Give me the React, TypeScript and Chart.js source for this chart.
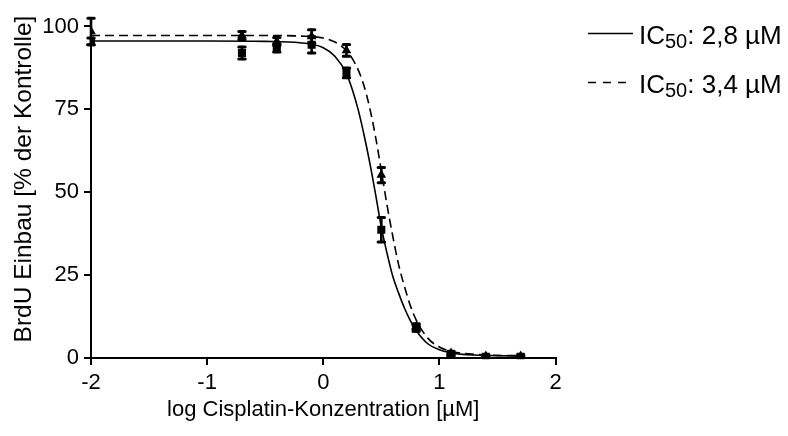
import { useEffect, useRef } from "react";
import { Chart, registerables } from "chart.js";

Chart.register(...registerables);

const FONT = 'Arial, "Liberation Sans", Helvetica, sans-serif';

// Measured points (log concentration, µM)
const doseLog = [-2, -0.7, -0.4, -0.1, 0.2, 0.5, 0.8, 1.1, 1.4, 1.7];

// Series with IC50 2,8 µM (squares, solid fit)
const squareMeans = [95.5, 92.0, 93.5, 94.5, 86.0, 38.7, 8.9, 0.9, 0.4, 0.4];
const squareErrors = [1.0, 1.8, 1.2, 2.5, 1.5, 3.7, 0.8, 0.5, 0.3, 0.3];

// Series with IC50 3,4 µM (triangles, dashed fit)
const triangleMeans = [98.5, 97.3, 95.5, 97.0, 92.8, 55.2, 9.5, 1.5, 0.6, 0.6];
const triangleErrors = [4.0, 1.2, 1.2, 2.0, 1.8, 2.3, 0.8, 0.5, 0.3, 0.3];

// Fitted curves
const curveX = [-2, -1.5, -1, -0.5, -0.2, 0, 0.1, 0.2, 0.25, 0.3, 0.35, 0.4, 0.45, 0.5, 0.55, 0.6, 0.65, 0.7, 0.75, 0.8, 0.9, 1.0, 1.1, 1.2, 1.3, 1.5, 1.7];
const solidCurve = [95.6, 95.6, 95.6, 95.5, 95.1, 93.6, 91.0, 85.8, 81.0, 75.0, 67.5, 59.0, 49.5, 39.5, 31.5, 24.5, 19.5, 15.0, 11.3, 8.3, 4.3, 2.5, 1.6, 1.1, 0.9, 0.7, 0.6];
const dashedCurve = [97.3, 97.3, 97.3, 97.3, 97.1, 96.5, 95.3, 92.7, 90.3, 87.0, 82.2, 75.5, 66.8, 56.5, 46.0, 36.5, 28.0, 21.5, 15.8, 11.5, 6.0, 3.3, 2.0, 1.4, 1.1, 0.8, 0.7];

const xTicks = [-2, -1, 0, 1, 2];
const yTicks = [0, 25, 50, 75, 100];

const legendEntries = [
  { main: "IC", sub: "50", rest: ": 2,8 µM", dashed: false },
  { main: "IC", sub: "50", rest: ": 3,4 µM", dashed: true },
];

const xTitle = "log Cisplatin-Konzentration [µM]";
const yTitle = "BrdU Einbau [% der Kontrolle]";

const errorBarPlugin = {
  id: "errorBars",
  afterDatasetsDraw(chart: any) {
    const { ctx, scales } = chart;
    const xs = scales.x;
    const ys = scales.y;
    const sets = [
      { means: squareMeans, errs: squareErrors },
      { means: triangleMeans, errs: triangleErrors },
    ];
    ctx.save();
    ctx.strokeStyle = "#000";
    ctx.lineCap = "round";
    sets.forEach(({ means, errs }) => {
      means.forEach((m, i) => {
        const px = xs.getPixelForValue(doseLog[i]);
        const top = ys.getPixelForValue(m + errs[i]);
        const bot = ys.getPixelForValue(m - errs[i]);
        ctx.lineWidth = 2.6;
        ctx.beginPath();
        ctx.moveTo(px, top);
        ctx.lineTo(px, bot);
        ctx.stroke();
        ctx.lineWidth = 3;
        ctx.beginPath();
        ctx.moveTo(px - 3.2, top);
        ctx.lineTo(px + 3.2, top);
        ctx.moveTo(px - 3.2, bot);
        ctx.lineTo(px + 3.2, bot);
        ctx.stroke();
      });
    });
    ctx.restore();
  },
};

const textPlugin = {
  id: "texts",
  afterDraw(chart: any) {
    const { ctx } = chart;
    ctx.save();
    ctx.fillStyle = "#000";
    ctx.strokeStyle = "#000";
    // y axis title
    ctx.save();
    ctx.translate(24, 179);
    ctx.rotate(-Math.PI / 2);
    ctx.font = `24.5px ${FONT}`;
    ctx.textAlign = "center";
    ctx.textBaseline = "middle";
    ctx.fillText(yTitle, 0, 0);
    ctx.restore();
    // legend
    ctx.textBaseline = "alphabetic";
    ctx.textAlign = "left";
    legendEntries.forEach((e, i) => {
      const base = 43.5 + i * 49;
      const ly = base - 10;
      ctx.lineWidth = 1.6;
      ctx.setLineDash(e.dashed ? [8, 7] : []);
      ctx.beginPath();
      ctx.moveTo(588, ly);
      ctx.lineTo(633, ly);
      ctx.stroke();
      ctx.setLineDash([]);
      let x = 639;
      ctx.font = `26px ${FONT}`;
      ctx.fillText(e.main, x, base);
      x += ctx.measureText(e.main).width;
      ctx.font = `20px ${FONT}`;
      ctx.fillText(e.sub, x, base + 4);
      x += ctx.measureText(e.sub).width;
      ctx.font = `26px ${FONT}`;
      ctx.fillText(e.rest, x, base);
    });
    ctx.restore();
  },
};

export default function App() {
  const canvasRef = useRef<HTMLCanvasElement | null>(null);

  useEffect(() => {
    if (!canvasRef.current) return;
    const toPts = (xsArr: number[], ysArr: number[]) => xsArr.map((x, i) => ({ x, y: ysArr[i] }));
    const chart = new Chart(canvasRef.current, {
      type: "scatter",
      data: {
        datasets: [
          {
            type: "scatter",
            label: "squares",
            data: toPts(doseLog, squareMeans),
            pointStyle: "rect",
            pointRadius: 5.7,
            backgroundColor: "#000",
            borderColor: "#000",
            borderWidth: 0,
          },
          {
            type: "scatter",
            label: "triangles",
            data: toPts(doseLog, triangleMeans),
            pointStyle: "triangle",
            pointRadius: 5.6,
            backgroundColor: "#000",
            borderColor: "#000",
            borderWidth: 0,
          },
          {
            type: "line",
            label: "fit 2,8",
            data: toPts(curveX, solidCurve),
            borderColor: "#000",
            borderWidth: 1.6,
            pointRadius: 0,
            fill: false,
            cubicInterpolationMode: "monotone",
          },
          {
            type: "line",
            label: "fit 3,4",
            data: toPts(curveX, dashedCurve),
            borderColor: "#000",
            borderWidth: 1.6,
            borderDash: [9, 5],
            pointRadius: 0,
            fill: false,
            cubicInterpolationMode: "monotone",
          },
        ],
      },
      options: {
        responsive: false,
        animation: false,
        events: [],
        layout: { padding: { left: 0, top: 16.7, right: 232.5, bottom: 0 } },
        plugins: { legend: { display: false }, tooltip: { enabled: false } },
        scales: {
          x: {
            type: "linear",
            min: -2,
            max: 2,
            afterBuildTicks: (s: any) => {
              s.ticks = xTicks.map((v) => ({ value: v }));
            },
            afterFit: (s: any) => {
              s.height = 78;
            },
            grid: { drawOnChartArea: false, drawTicks: true, tickLength: 7, color: "#000", lineWidth: 2 },
            border: { display: true, color: "#000", width: 2 },
            ticks: { color: "#000", font: { family: FONT, size: 22 }, padding: 5, maxRotation: 0, autoSkip: false },
            title: {
              display: true,
              text: xTitle,
              color: "#000",
              font: { family: FONT, size: 22 },
              padding: { top: 0, bottom: 13 },
            },
          },
          y: {
            type: "linear",
            min: 0,
            max: 102.5,
            afterBuildTicks: (s: any) => {
              s.ticks = yTicks.map((v) => ({ value: v }));
            },
            afterFit: (s: any) => {
              s.width = 91;
            },
            grid: { drawOnChartArea: false, drawTicks: true, tickLength: 7, color: "#000", lineWidth: 2 },
            border: { display: true, color: "#000", width: 2 },
            ticks: { color: "#000", font: { family: FONT, size: 22 }, padding: 5, autoSkip: false },
            title: { display: false },
          },
        },
      },
      plugins: [errorBarPlugin, textPlugin],
    } as any);
    return () => chart.destroy();
  }, []);

  return (
    <div style={{ position: "absolute", left: 0, top: 0, width: 788, height: 436, background: "#fff" }}>
      <canvas ref={canvasRef} width={788} height={436} style={{ width: 788, height: 436, display: "block" }} />
    </div>
  );
}
